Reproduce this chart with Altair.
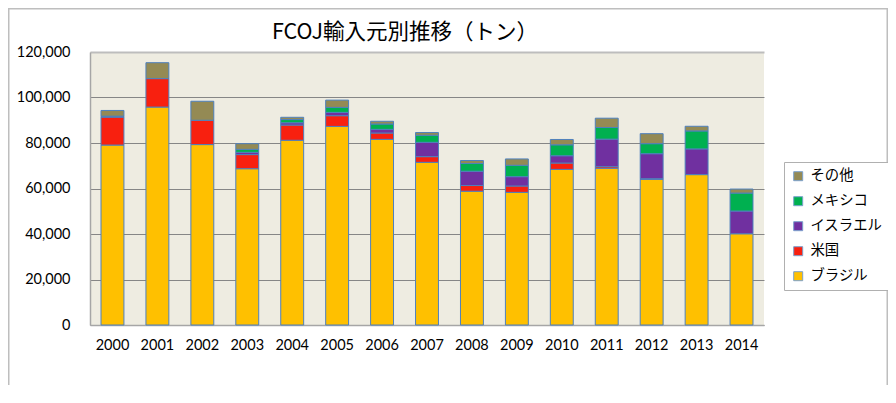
import altair as alt
import pandas as pd

years = [str(y) for y in range(2000, 2015)]
series = ["ブラジル", "米国", "イスラエル", "メキシコ", "その他"]
brazil = [79100, 95800, 79300, 68700, 81200, 87300, 81600, 71500, 58800, 58300, 68400, 68900, 64000, 66100, 40100]
usa    = [12300, 12500, 10700, 6200, 6700, 4700, 2800, 2500, 2500, 2800, 2800, 700, 300, 0, 0]
israel = [200, 0, 0, 1000, 1000, 1450, 1600, 6300, 6300, 4100, 3200, 12100, 11000, 11300, 10000]
mexico = [200, 0, 0, 1300, 1400, 2200, 2350, 3100, 3400, 5000, 4800, 5100, 4400, 7900, 7900]
other  = [2500, 7000, 8350, 2500, 1000, 3200, 1200, 1200, 1300, 2800, 2350, 4100, 4400, 2050, 1750]
colors = {"ブラジル": "#FFC000", "米国": "#F8200F", "イスラエル": "#7030A0", "メキシコ": "#00B050", "その他": "#948A54"}
title_text = "FCOJ輸入元別推移（トン）"
y_ticks = [0, 20000, 40000, 60000, 80000, 100000, 120000]

rows = []
for name, vals in zip(series, [brazil, usa, israel, mexico, other]):
    for yr, v in zip(years, vals):
        if v > 0:
            rows.append({"year": yr, "series": name, "value": v, "ord": series.index(name)})
df = pd.DataFrame(rows)

legend_order = list(reversed(series))

W, H = 674, 273

bars = alt.Chart(df).mark_bar(stroke="#4F81BD", strokeWidth=1).encode(
    x=alt.X("year:N", sort=years, title=None,
            scale=alt.Scale(paddingInner=0.49, paddingOuter=0.245),
            axis=alt.Axis(labelAngle=0, labelFont="Lato", labelFontSize=14.5, labelColor="#000000",
                          ticks=False, tickSize=0, labelPadding=13, domainColor="#A6A6A6",
                          domainWidth=1.5, grid=False)),
    y=alt.Y("value:Q", stack="zero", title=None,
            scale=alt.Scale(domain=[0, 120000], nice=False),
            axis=alt.Axis(values=y_ticks, format=",d", labelFont="Lato", labelFontSize=14.5,
                          labelColor="#000000", ticks=False, tickSize=0, labelPadding=20,
                          domainColor="#A6A6A6", domainWidth=1.5,
                          gridColor=alt.condition("datum.value == 120000", alt.value("#BDBDBD"), alt.value("#868686")),
                          gridWidth=alt.condition("datum.value == 120000", alt.value(2), alt.value(1)))),
    color=alt.Color("series:N", title=None,
                    scale=alt.Scale(domain=legend_order, range=[colors[s] for s in legend_order]),
                    legend=alt.Legend(orient="none", legendX=694, legendY=110, padding=7,
                                      strokeColor="#B0B0B0", fillColor="#FFFFFF",
                                      labelFont="Noto Sans CJK JP", labelFontSize=14.4, labelColor="#000000",
                                      symbolType="square", symbolSize=81, symbolStrokeColor="#7BA0CD",
                                      symbolStrokeWidth=1, rowPadding=10, labelOffset=5)),
    order=alt.Order("ord:Q", sort="ascending"),
)

title = alt.Chart(pd.DataFrame({"t": [title_text]})).mark_text(
    font="Noto Sans CJK JP", fontSize=21.5, color="#000000", align="center", baseline="middle"
).encode(text="t:N", x=alt.value(315), y=alt.value(-19))

frame = alt.Chart(pd.DataFrame({"a": [1]})).mark_rect(
    fill=None, fillOpacity=0, stroke="#BEBEBE", strokeWidth=1.5
).encode(x=alt.value(-81.25), x2=alt.value(797.25), y=alt.value(-43.25), y2=alt.value(400))

chart = alt.layer(frame, bars, title).properties(
    width=W, height=H,
    padding={"left": 82, "top": 44, "right": 124, "bottom": 60},
    autosize=alt.AutoSizeParams(type="none"),
    background="#FFFFFF",
).configure_view(fill="#EEECE1", stroke=None)

chart.save("out.html", embed_options={"renderer": "svg", "actions": False})
